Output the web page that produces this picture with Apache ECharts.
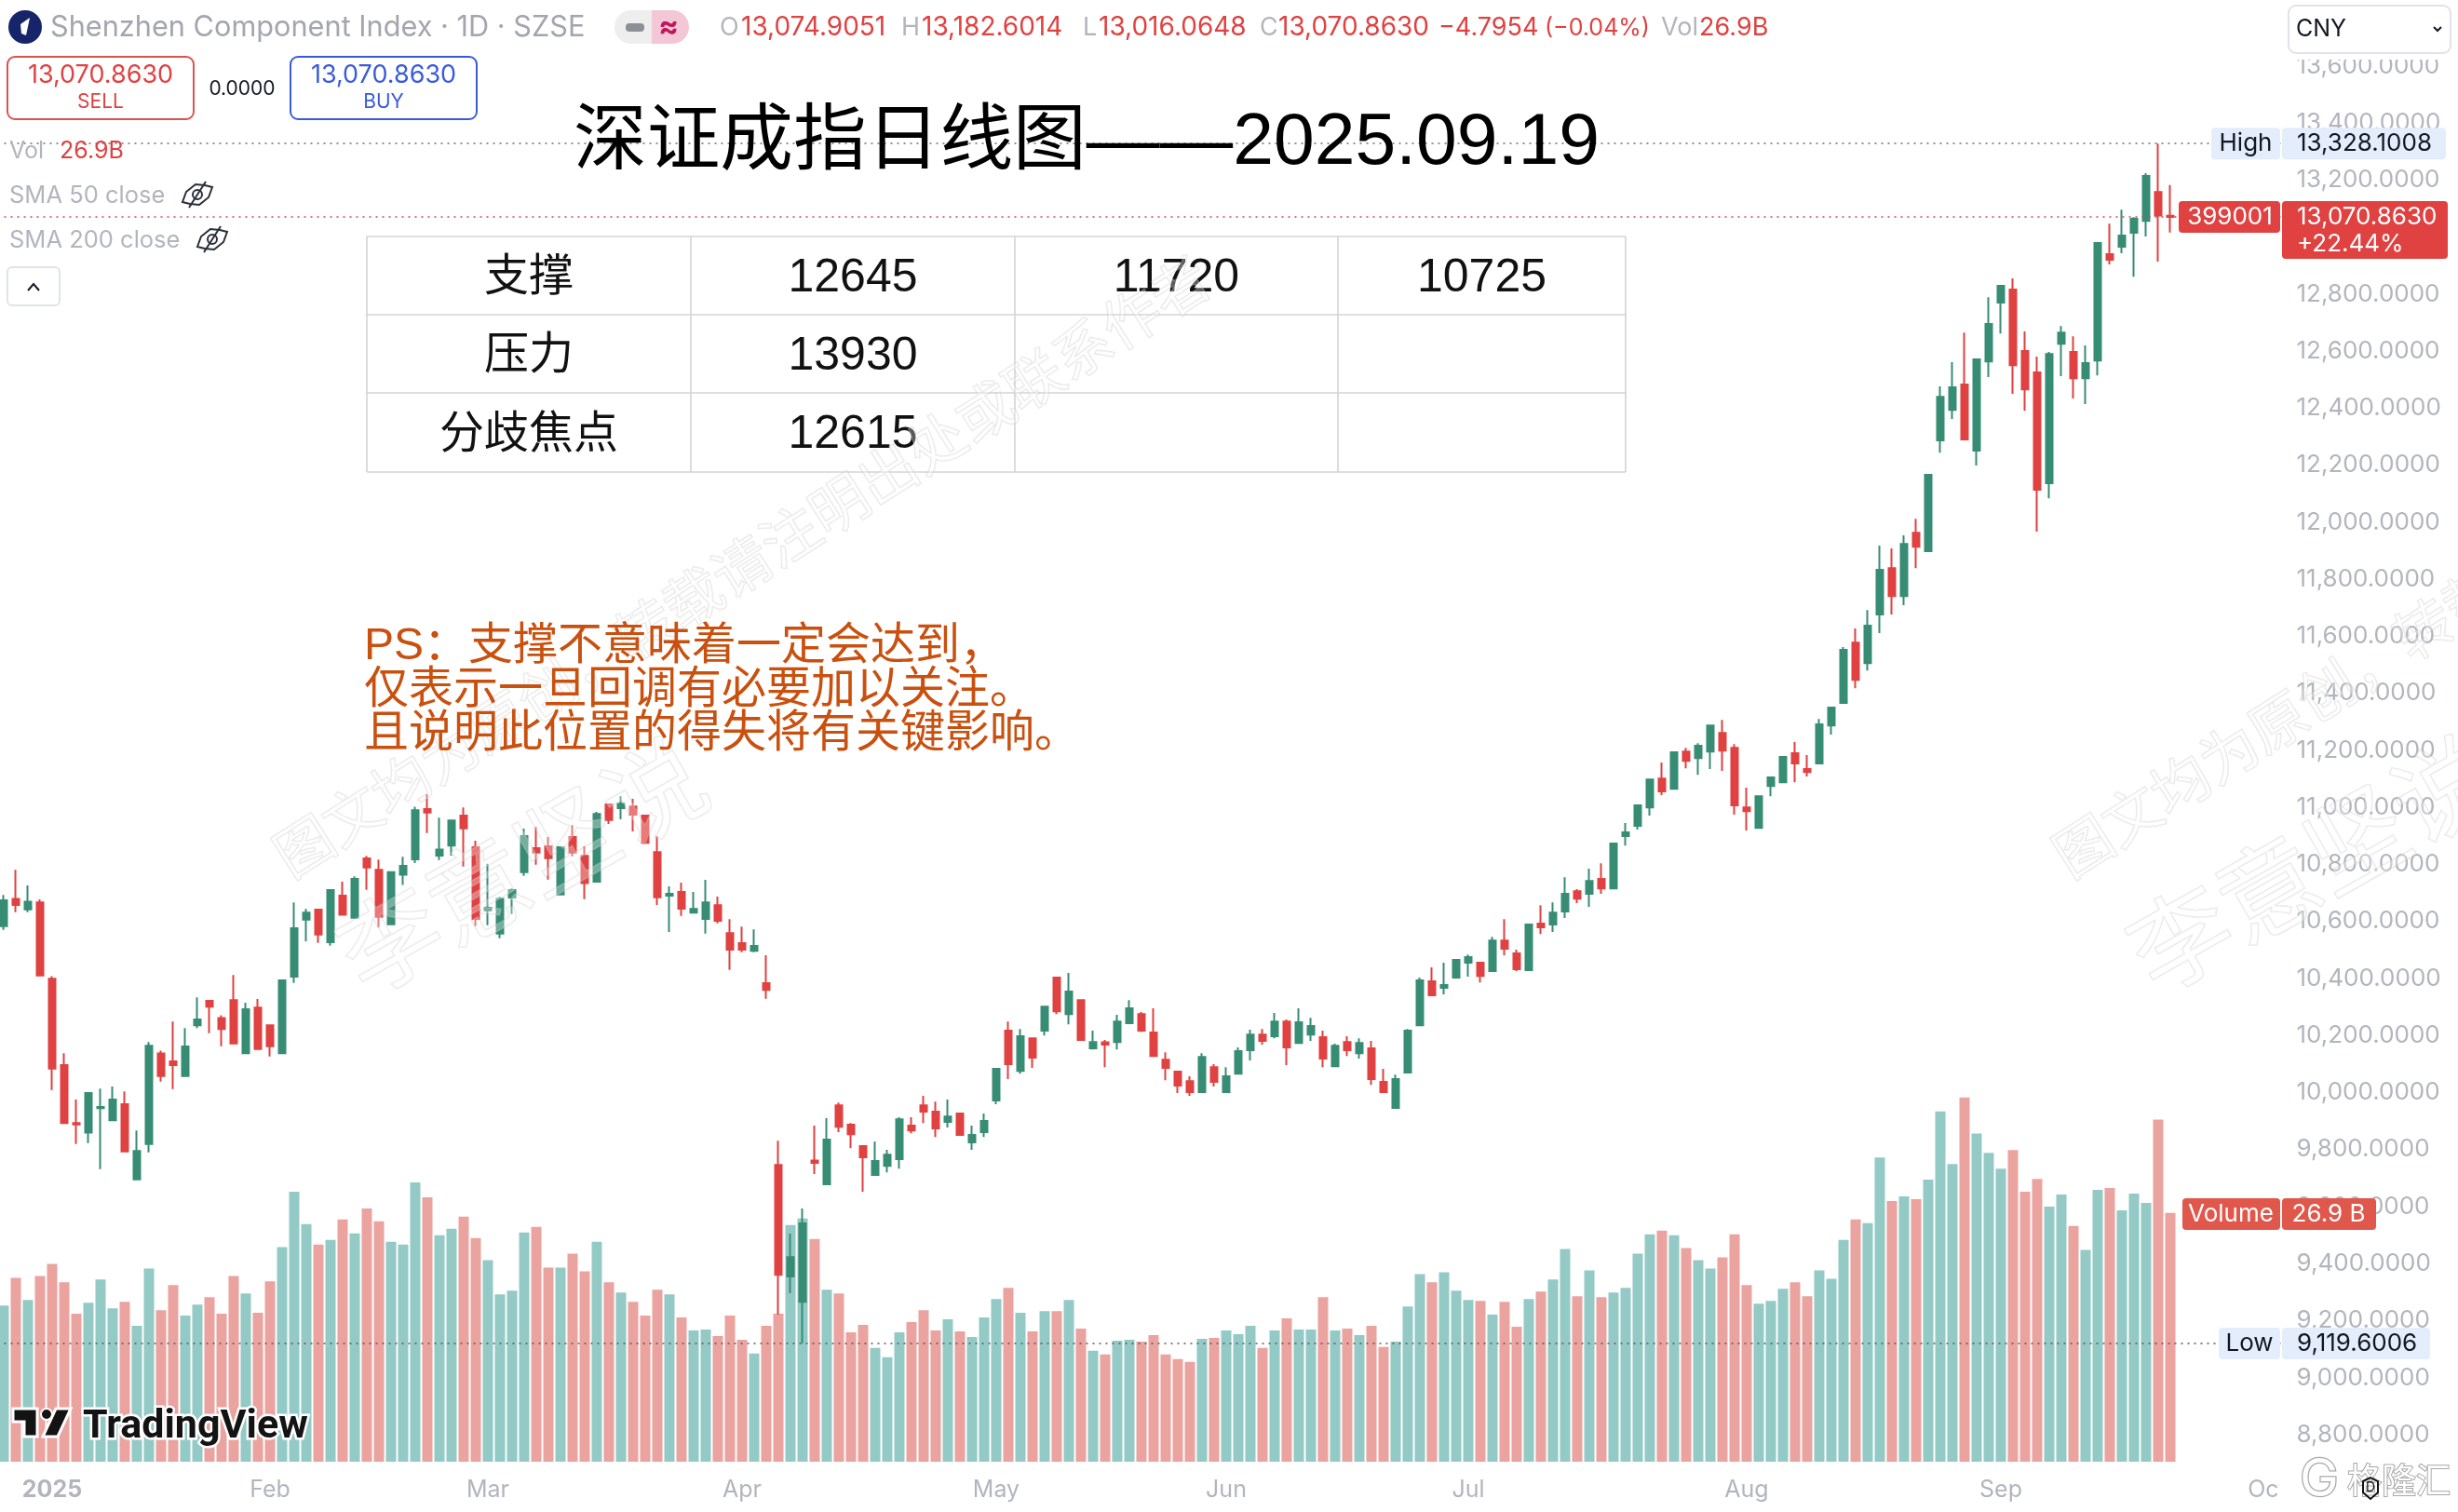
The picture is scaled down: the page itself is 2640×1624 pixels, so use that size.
<!DOCTYPE html>
<html>
<head>
<meta charset="utf-8">
<title>深证成指日线图</title>
<script src="https://cdn.jsdelivr.net/npm/echarts@6/dist/echarts.min.js"></script>
<style>
html,body{margin:0;padding:0;background:#fff;}
#main{width:2640px;height:1624px;}
</style>
</head>
<body>
<div id="main"></div>
<script>
/* OHLC, one value per trading day */
var opens = [10583,10679,10642,10667,10399,10096,9893,9859,9945,9903,
9959,9695,9819,10137,10109,10058,10236,10321,10261,10324,
10138,10298,10236,10138,10406,10606,10641,10527,10690,10613,
10821,10781,10590,10764,10818,10994,10831,10866,10971,10860,
10639,10557,10684,10773,10857,10863,10694,10896,10830,10739,
11010,10997,11003,10971,10843,10690,10703,10631,10609,10657,
10559,10524,10497,10383,9746,9355,9266,9761,9678,9955,
9887,9812,9711,9743,9766,9884,9955,9933,9897,9926,
9825,9861,9972,10217,10076,10190,10217,10403,10275,10324,
10155,10176,10177,10243,10275,10210,10115,10073,10040,10001,
10089,10001,10066,10148,10203,10197,10249,10174,10203,10194,
10092,10177,10138,10155,10037,9946,10070,10236,10390,10367,
10403,10455,10455,10426,10533,10488,10429,10592,10589,10635,
10706,10697,10749,10716,10899,10935,11000,11101,11065,11196,
11173,11196,11261,11209,11000,10928,11075,11088,11190,11134,
11154,11287,11366,11578,11506,11676,11839,11741,11963,11898,
12287,12394,12483,12251,12564,12770,12816,12600,12525,12137,
12626,12597,12505,12567,12940,12966,13015,13057,13158,13074.9051];
var closes = [10674,10658,10669,10410,10084,9893,9888,9998,9949,9975,
9793,9795,10164,10058,10096,10161,10256,10301,10223,10172,
10292,10152,10162,10393,10576,10631,10554,10710,10623,10749,
10789,10616,10773,10795,10990,10982,10852,10954,10926,10609,
10648,10679,10710,10899,10841,10822,10860,10841,10734,10977,
10956,11013,10974,10876,10685,10697,10645,10644,10667,10602,
10501,10501,10514,10360,9361,9423,9541,9753,9835,9880,
9854,9773,9760,9782,9906,9867,9933,9874,9916,9851,
9851,9900,10083,10099,10197,10122,10301,10285,10354,10184,
10177,10168,10249,10295,10217,10128,10086,10024,10001,10125,
10037,10057,10145,10203,10181,10249,10158,10246,10233,10119,
10164,10148,10174,10047,10001,10047,10217,10393,10341,10377,
10465,10475,10409,10533,10504,10432,10589,10579,10631,10697,
10680,10742,10716,10873,10912,11007,11098,11056,11193,11163,
11216,11287,11199,11007,10987,11039,11105,11177,11154,11124,
11291,11350,11552,11447,11637,11833,11741,11924,11914,12166,
12440,12473,12290,12571,12695,12829,12551,12466,12114,12590,
12665,12505,12558,12979,12920,13005,13064,13214,13075.66,13070.863];
var lows = [10570,10632,10632,10410,10009,9891,9819,9823,9731,9901,
9793,9695,9790,10038,10012,10058,10226,10208,10162,10172,
10138,10152,10126,10136,10384,10530,10525,10515,10623,10613,
10711,10579,10590,10728,10805,10910,10815,10831,10792,10583,
10587,10541,10626,10760,10799,10747,10694,10828,10678,10737,
10942,10958,10916,10871,10658,10563,10619,10631,10557,10593,
10430,10492,10492,10329,9221,9296,9119.6006,9714,9678,9861,
9805,9652,9711,9720,9733,9857,9893,9844,9877,9848,
9799,9844,9959,10047,10066,10086,10200,10275,10239,10184,
10151,10089,10151,10243,10213,10128,10043,9998,9988,10001,
10021,10001,10066,10112,10168,10190,10096,10174,10181,10089,
10092,10128,10119,10027,9998,9946,10070,10234,10341,10344,
10399,10406,10386,10426,10481,10426,10429,10556,10563,10612,
10664,10651,10697,10716,10866,10922,10971,11043,11065,11137,
11114,11134,11128,10974,10919,10928,11039,11085,11088,11108,
11154,11255,11363,11418,11480,11611,11676,11709,11839,11898,
12244,12362,12290,12199,12509,12662,12450,12391,11967,12084,
12512,12434,12414,12515,12904,12943,12861,13002,12914,13016.0648];
var highs = [10693,10781,10726,10677,10408,10138,9975,10000,10014,10021,
10004,9867,10177,10147,10249,10226,10334,10324,10271,10412,
10315,10328,10239,10393,10667,10644,10641,10710,10739,10758,
10830,10817,10774,10827,11002,11046,10964,10954,11000,10883,
10802,10686,10716,10925,10932,10896,10860,10938,10863,10984,
11012,11039,11030,10971,10899,10723,10736,10703,10746,10687,
10608,10582,10572,10481,9831,9505,9593,9884,9910,9965,
9893,9815,9828,9799,9913,9913,9988,9968,9975,9926,
9884,9926,10083,10249,10223,10190,10301,10403,10419,10324,
10217,10184,10272,10324,10282,10295,10141,10076,10057,10138,
10099,10089,10158,10220,10223,10279,10256,10295,10262,10217,
10171,10197,10190,10181,10083,10063,10223,10403,10439,10455,
10468,10484,10455,10546,10608,10501,10592,10657,10667,10755,
10713,10785,10804,10873,10945,11007,11098,11157,11193,11209,
11225,11287,11307,11222,11069,11039,11105,11177,11229,11183,
11310,11350,11562,11627,11692,11918,11908,11954,12012,12166,
12476,12561,12665,12571,12789,12829,12855,12669,12581,12597,
12688,12652,12620,12979,13047,13096,13070,13224,13328.1008,13182.6014];
/* volume in billions */
var volumes = [16.9,19.9,17.5,20.1,21.4,19.4,16.0,17.2,19.7,16.6,
17.3,14.7,20.9,16.4,19.1,15.8,17.0,17.8,16.0,20.1,
18.2,16.1,19.5,23.2,29.2,25.7,23.5,24.0,26.2,24.7,
27.4,26.0,23.8,23.5,30.2,28.6,24.5,25.2,26.5,24.2,
21.8,18.1,18.5,24.8,25.4,21.0,21.0,22.5,20.6,23.8,
19.4,18.3,17.3,15.8,18.6,18.1,15.6,14.2,14.3,13.6,
15.8,13.2,11.7,14.7,16.0,25.6,26.3,24.1,18.6,18.2,
14.0,14.8,12.3,11.3,14.0,15.1,16.4,14.2,15.4,14.1,
13.5,15.6,17.6,18.8,16.1,14.1,16.3,16.3,17.5,14.4,
12.0,11.6,13.1,13.2,13.0,13.7,11.6,11.1,10.8,13.3,
13.4,14.2,13.8,14.7,12.3,14.2,15.5,14.3,14.3,17.8,
14.2,14.4,13.7,14.7,12.4,13.0,16.8,20.3,19.4,20.5,
18.5,17.5,17.4,15.9,17.3,14.6,17.6,18.4,19.7,23.0,
17.9,20.7,17.8,18.3,18.8,22.5,24.6,25.0,24.5,23.1,
21.8,20.9,22.1,24.6,19.1,17.1,17.4,18.7,19.4,17.9,
20.7,19.8,24.0,26.2,25.8,32.9,28.2,28.7,28.4,30.5,
37.9,32.2,39.4,35.5,33.4,31.7,33.7,29.2,30.6,27.6,
28.9,25.5,22.9,29.4,29.6,27.2,29.0,28.0,37.0,26.9];
var tickIndex = [4,22,40,61,82,101,121,144,165,187];
var tickLabels = ['2025','Feb','Mar','Apr','May','Jun','Jul','Aug','Sep','Oct'];
var highPrice = 13328.1008, lastPrice = 13070.863, lowPrice = 9119.6006;
var tableRows = [
    ['支撑','12645','11720','10725'],
    ['压力','13930','',''],
    ['分歧焦点','12615','','']
];
var noteLines = ['PS：支撑不意味着一定会达到，','仅表示一旦回调有必要加以关注。','且说明此位置的得失将有关键影响。'];

var upColor = '#378c74', downColor = '#e04141';
var volUp = '#94cac5', volDown = '#eaa39f';
var axisGray = '#b2b5be', sans = 'Inter, "Noto Sans", sans-serif';
var cjk = '"Liberation Sans","Noto Sans CJK SC",sans-serif';

var categories = [];
for (var i = 0; i < 189; i++) categories.push(String(i));
var candleData = opens.map(function (o, i) { return [o, closes[i], lows[i], highs[i]]; });
var volumeData = volumes.map(function (v, i) {
    return { value: v, itemStyle: { color: closes[i] > opens[i] ? volUp : volDown } };
});

var myChart = echarts.init(document.getElementById('main'));
var option = {
    animation: false,
    backgroundColor: '#fff',
    grid: [
        { left: -2.5, width: 2457, top: 9.6, height: 1592.6, outerBoundsMode: 'none' },
        { left: -2.5, width: 2457, top: 0, height: 1570, outerBoundsMode: 'none' }
    ],
    xAxis: [
        { type: 'category', gridIndex: 0, data: categories, show: false },
        {
            type: 'category', gridIndex: 1, data: categories,
            axisLine: { show: false }, axisTick: { show: false },
            axisLabel: {
                margin: 18, fontSize: 25, fontFamily: sans, color: axisGray, hideOverlap: false,
                interval: function (i) { return tickIndex.indexOf(i) >= 0; },
                formatter: function (v, i) {
                    var t = tickLabels[tickIndex.indexOf(i)];
                    return t === '2025' ? '{b|2025}' : t;
                },
                rich: { b: { fontSize: 25, fontWeight: 'bold', fontFamily: sans, color: axisGray } }
            }
        }
    ],
    yAxis: [
        {
            type: 'value', gridIndex: 0, position: 'right', min: 8600, max: 13800, interval: 200,
            axisLine: { show: false }, axisTick: { show: false }, splitLine: { show: false },
            axisLabel: {
                margin: 12, align: 'left', fontSize: 26, fontFamily: sans, color: axisGray,
                formatter: function (v) {
                    if (v <= 8600 || v >= 13800) return '';
                    return v.toLocaleString('en-US', { minimumFractionDigits: 4, maximumFractionDigits: 4 });
                }
            }
        },
        { type: 'value', gridIndex: 1, min: 0, max: 158.1, show: false }
    ],
    series: [
        {
            type: 'bar', name: 'Volume', xAxisIndex: 1, yAxisIndex: 1,
            barWidth: 11, data: volumeData, z: 2, silent: true
        },
        {
            type: 'candlestick', name: 'Shenzhen Component Index', xAxisIndex: 0, yAxisIndex: 0,
            barWidth: 8, data: candleData, z: 3, silent: true,
            itemStyle: { color: upColor, color0: downColor, borderColor: upColor, borderColor0: downColor, borderWidth: 2 },
            markLine: {
                silent: true, symbol: ['none', 'none'], label: { show: false },
                data: [
                    { yAxis: highPrice, lineStyle: { color: '#6a6d78', type: [2, 5], width: 1.5 } },
                    { yAxis: lastPrice, lineStyle: { color: '#d0485a', type: [2, 5], width: 1.5 } },
                    { yAxis: lowPrice, lineStyle: { color: '#55585f', type: [2, 5], width: 1.5 } }
                ]
            }
        }
    ]
};
myChart.setOption(option);

/* ---- everything around the chart ---- */
var g = [];
function txt(x, y, text, size, color, align, extra) {
    var st = { x: x, y: y, text: text, font: (extra && extra.weight ? extra.weight + ' ' : '') + size + 'px ' + (extra && extra.family || sans), fill: color, textAlign: align || 'left', textVerticalAlign: 'middle' };
    if (extra && extra.stroke) { st.stroke = extra.stroke; st.lineWidth = extra.lineWidth; }
    g.push({ type: 'text', z: (extra && extra.z) || 110, silent: true, style: st });
}
function box(x, y, w, h, fill, stroke, r, z, lw) {
    g.push({ type: 'rect', z: z || 105, silent: true, shape: { x: x, y: y, width: w, height: h, r: r || 0 }, style: { fill: fill || 'none', stroke: stroke || 'none', lineWidth: lw || 2 } });
}
function seg(x1, y1, x2, y2, color, w, z) {
    g.push({ type: 'line', z: z || 105, silent: true, shape: { x1: x1, y1: y1, x2: x2, y2: y2 }, style: { stroke: color, lineWidth: w || 2 } });
}
function poly(pts, fill, stroke, z, lw) {
    g.push({ type: 'polygon', z: z || 106, silent: true, shape: { points: pts }, style: { fill: fill || 'none', stroke: stroke || 'none', lineWidth: lw || 2 } });
}
function priceY(v) { return myChart.convertToPixel({ yAxisIndex: 0 }, v); }
function watermark(x, y, text, size, angle) {
    g.push({
        type: 'text', z: 50, silent: true, x: x, y: y, rotation: angle,
        style: { x: 0, y: 0, text: text, font: size + 'px "Noto Sans CJK SC",sans-serif', fill: 'rgba(255,255,255,0.3)', stroke: 'rgba(190,190,190,0.34)', lineWidth: 1.6, textAlign: 'left', textVerticalAlign: 'middle' }
    });
}
function eye(cx, cy) {
    poly([[cx - 16, cy + 8], [cx - 12, cy - 3], [cx - 2, cy - 11], [cx + 8, cy - 10], [cx + 16, cy - 8], [cx + 12, cy + 3], [cx + 2, cy + 11], [cx - 8, cy + 10]], 'none', '#2a2e39', 106, 2);
    g.push({ type: 'circle', z: 106, silent: true, shape: { cx: cx, cy: cy, r: 5 }, style: { fill: 'none', stroke: '#2a2e39', lineWidth: 2 } });
    seg(cx - 9, cy + 14, cx + 9, cy - 14, '#2a2e39', 2, 107);
}

// watermarks
watermark(300, 925, '图文均为原创，转载请注明出处或联系作者', 62, 0.568);
watermark(2211, 925, '图文均为原创，转载请注明出处或联系作者', 62, 0.568);
watermark(372, 1036, '李意坚说', 108, 0.515);
watermark(2295, 1034, '李意坚说', 108, 0.515);

// right-hand white cover and currency box
box(2456, 0, 184, 64, '#fff', 'none', 0, 100);
box(2458, 6, 174, 51, '#fff', '#e0e3eb', 8, 105);
txt(2466, 31, 'CNY', 25, '#131722');
g.push({ type: 'polyline', z: 106, silent: true, shape: { points: [[2614, 29], [2618, 33], [2622, 29]] }, style: { stroke: '#131722', lineWidth: 2, fill: 'none' } });

// legend header
g.push({ type: 'circle', z: 105, silent: true, shape: { cx: 27, cy: 29, r: 18 }, style: { fill: '#16256a' } });
poly([[32, 19], [28, 38], [23, 36], [22, 26]], '#fff');
txt(54, 30, 'Shenzhen Component Index · 1D · SZSE', 30.7, '#a3a6af');
box(660, 11, 40, 36, '#eeeeef', 'none', [18, 0, 0, 18]);
box(700, 11, 40, 36, '#f4c7d6', 'none', [0, 18, 18, 0]);
box(672, 25, 20, 9, '#8d8f96', 'none', 4, 106);
txt(718, 29, '≈', 32, '#c2185b', 'center', { weight: 'bold' });
var ohlc = [
    [773, 'O', axisGray, 27], [796, '13,074.9051', downColor, 28],
    [968, 'H', axisGray, 27], [990, '13,182.6014', downColor, 28],
    [1163, 'L', axisGray, 27], [1180, '13,016.0648', downColor, 28],
    [1353, 'C', axisGray, 27], [1373, '13,070.8630', downColor, 28],
    [1545, '−4.7954', downColor, 27], [1659, '(−0.04%)', downColor, 25],
    [1784, 'Vol', axisGray, 27], [1825, '26.9B', downColor, 27]
];
ohlc.forEach(function (t) { txt(t[0], 30, t[1], t[3], t[2]); });

box(8, 61, 200, 67, '#fff', '#d9534f', 8);
txt(108, 81, '13,070.8630', 27, downColor, 'center');
txt(108, 110, 'SELL', 21, downColor, 'center');
txt(260, 96, '0.0000', 21, '#131722', 'center');
box(312, 61, 200, 67, '#fff', '#3a5bd9', 8);
txt(412, 81, '13,070.8630', 27, '#3a5bd9', 'center');
txt(412, 110, 'BUY', 21, '#3a5bd9', 'center');
txt(10, 162, 'Vol', 25, axisGray);
txt(64, 162, '26.9B', 25, downColor);
txt(10, 210, 'SMA 50 close', 25.5, axisGray);
eye(212, 209);
txt(10, 258, 'SMA 200 close', 25.5, axisGray);
eye(228, 257);
box(8, 287, 56, 41, '#fff', '#e0e3eb', 5);
g.push({ type: 'polyline', z: 106, silent: true, shape: { points: [[30, 312], [36, 305], [42, 312]] }, style: { stroke: '#131722', lineWidth: 2, fill: 'none' } });

// title
txt(616, 154, '深证成指日线图——2025.09.19', 78.7, '#000', 'left', { family: cjk, z: 120 });

// table
var colX = [394, 742, 1090, 1437, 1746], rowY = [254, 338, 422, 507];
rowY.forEach(function (y) { seg(colX[0], y, colX[4], y, '#d4d4d4', 1.6, 40); });
colX.forEach(function (x) { seg(x, rowY[0], x, rowY[3], '#d4d4d4', 1.6, 40); });
tableRows.forEach(function (row, r) {
    row.forEach(function (cell, c) {
        if (cell) txt((colX[c] + colX[c + 1]) / 2, (rowY[r] + rowY[r + 1]) / 2 + 3, cell, c === 0 ? 48 : 50, '#111', 'center', { family: cjk, z: 40 });
    });
});

// note
noteLines.forEach(function (line, i) {
    txt(391, 695 + i * 47, line, 48, '#c9500e', 'left', { family: cjk, z: 120 });
});

// price tags on the axis
function tag(x, w, cy, h, fill, text, color, align, tx) {
    box(x, cy - h / 2, w, h, fill, 'none', 4, 115);
    txt(tx, cy, text, 26, color, align, { z: 116 });
}
var hy = priceY(highPrice), ly = priceY(lowPrice), cy = priceY(lastPrice);
tag(2375, 74, hy, 34, '#e3edfb', 'High', '#131722', 'center', 2412);
tag(2451, 176, hy, 34, '#e3edfb', '13,328.1008', '#131722', 'left', 2467);
tag(2383, 66, ly, 34, '#e3edfb', 'Low', '#131722', 'center', 2416);
tag(2451, 159, ly, 34, '#e3edfb', '9,119.6006', '#131722', 'left', 2467);
tag(2340, 109, cy, 34, downColor, '399001', '#fff', 'center', 2395);
box(2451, cy - 17, 178, 62, downColor, 'none', 4, 115);
txt(2467, cy, '13,070.8630', 26, '#fff', 'left', { z: 116 });
txt(2467, cy + 29, '+22.44%', 26, '#fff', 'left', { z: 116 });
tag(2344, 105, 1304, 34, '#e0574b', 'Volume', '#fff', 'center', 2396);
tag(2451, 101, 1304, 34, '#e0574b', '26.9 B', '#fff', 'center', 2501);

// TradingView logo
poly([[14, 1513], [40, 1513], [40, 1543], [26, 1543], [26, 1527], [14, 1527]], '#131313', '#fff', 108, 3);
g.push({ type: 'circle', z: 108, silent: true, shape: { cx: 50, cy: 1519, r: 6 }, style: { fill: '#131313', stroke: '#fff', lineWidth: 2 } });
poly([[60, 1513], [76, 1513], [62, 1543], [46, 1543]], '#131313', '#fff', 108, 3);
txt(89, 1533, 'TradingView', 43, '#131313', 'left', { weight: 'bold', family: 'Roboto,sans-serif', stroke: '#fff', lineWidth: 5, z: 108 });

// site mark, bottom right
box(2448, 1566, 192, 58, '#fff', 'none', 0, 112);
txt(2470, 1590, 'G', 56, '#fff', 'left', { stroke: '#a8a8a8', lineWidth: 2.5, z: 113 });
txt(2521, 1590, '格隆汇', 37, '#fff', 'left', { family: '"Noto Sans CJK SC",sans-serif', stroke: '#a8a8a8', lineWidth: 2, z: 113 });
poly([[2538, 1591], [2546, 1587], [2554, 1591], [2554, 1603], [2546, 1610], [2538, 1603]], 'none', '#111', 114, 2);
txt(2546, 1598, 'D', 14, '#111', 'center', { z: 115 });

myChart.setOption({ graphic: g });
</script>
</body>
</html>
